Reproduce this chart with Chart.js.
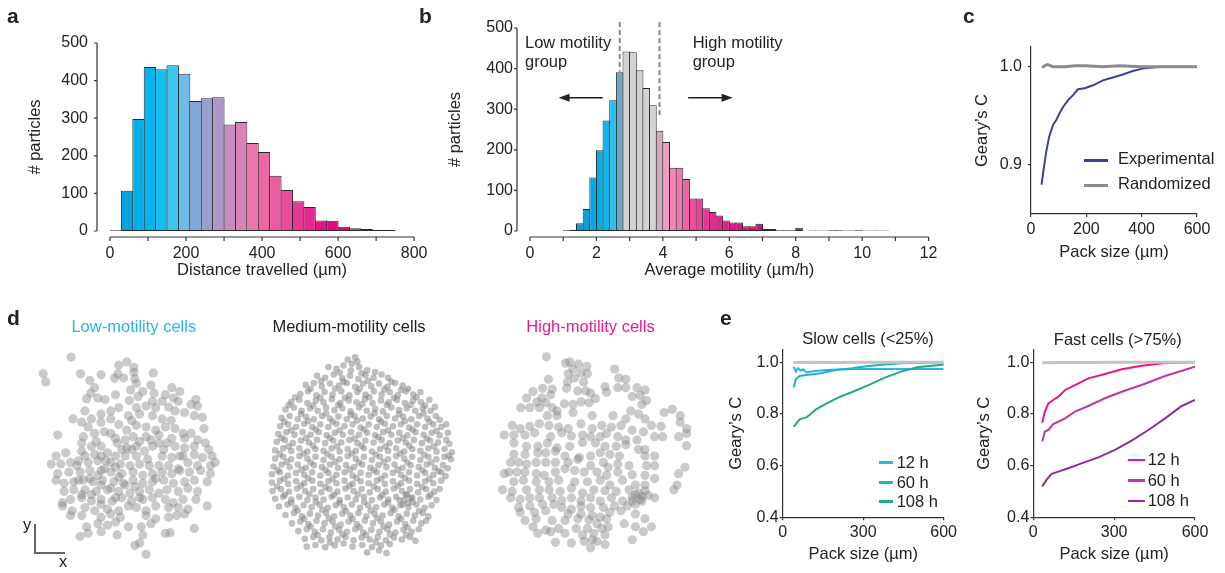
<!DOCTYPE html>
<html>
<head>
<meta charset="utf-8">
<script src="https://cdn.jsdelivr.net/npm/chart.js@4.4.1/dist/chart.umd.min.js"></script>
<style>
  body { margin: 0; width: 1225px; height: 573px; position: relative; overflow: hidden; background: #fff;
         font-family: "Liberation Sans", Arial, sans-serif; color: #222; }
  canvas { position: absolute; }
  .swatch { position: absolute; height: 2.5px; }
  .scalebar { position: absolute; border-left: 2px solid #666; border-bottom: 2px solid #666; }
</style>
</head>
<body>
<canvas id="distChart" width="440" height="280" style="left:0;top:0"></canvas>
<canvas id="motChart" width="530" height="280" style="left:420px;top:0"></canvas>
<canvas id="gearyChart" width="260" height="232" style="left:960px;top:30px"></canvas>
<canvas id="lowCells" width="260" height="273" style="left:0;top:300px"></canvas>
<canvas id="medCells" width="250" height="273" style="left:255px;top:300px"></canvas>
<canvas id="highCells" width="230" height="273" style="left:490px;top:300px"></canvas>
<canvas id="slowChart" width="240" height="234" style="left:720px;top:330px"></canvas>
<canvas id="fastChart" width="255" height="234" style="left:965px;top:330px"></canvas>
<div class="scalebar" style="left:34px;top:524px;width:29px;height:28px"></div>

<script>
// ---- a: distance travelled histogram (30 µm bins) ----
const distBinWidth = 30
const distBinStarts = [0, 30, 60, 90, 120, 150, 180, 210, 240, 270, 300, 330, 360, 390, 420, 450, 480, 510, 540, 570, 600, 630, 660, 690, 720]
const distCounts = [2, 107, 298, 436, 430, 441, 418, 346, 353, 356, 283, 290, 234, 210, 147, 109, 79, 64, 28, 27, 11, 7, 5, 3, 3]
const distColors = ['#0a96d4', '#05a3e0', '#00aeea', '#00b5ee', '#12bdf0', '#3cc5ef', '#6fbde6', '#7da9da', '#999fcf', '#ae97c7',
  '#c58dbf', '#d884b8', '#ee74ab', '#ef67a4', '#ec5a9f', '#eb4b99', '#e93794', '#e8288f', '#e6138a', '#e40787',
  '#dc0a82', '#cf1580', '#c0217c', '#b02a7a', '#a4307a']

// ---- b: average motility histogram (0.2 µm/h bins) ----
const motBinWidth = 0.2
const motBinStarts = [1.0, 1.2, 1.4, 1.6, 1.8, 2.0, 2.2, 2.4, 2.6, 2.8, 3.0, 3.2, 3.4, 3.6, 3.8, 4.0, 4.2, 4.4, 4.6, 4.8,
  5.0, 5.2, 5.4, 5.6, 5.8, 6.0, 6.2, 6.4, 6.6, 6.8, 7.0, 7.2, 7.4, 7.6, 7.8, 8.0,
  8.4, 8.6, 8.8, 9.0, 9.2, 9.4, 9.6, 9.8, 10.0, 10.2, 10.4, 10.6]
const motCounts = [2, 3, 19, 54, 132, 199, 272, 322, 391, 442, 440, 396, 352, 310, 247, 219, 156, 156, 128, 80,
  80, 56, 47, 38, 26, 21, 21, 12, 12, 18, 5, 5, 2, 2, 2, 8,
  1, 1, 1, 2, 2, 1, 1, 2, 1, 1, 1, 1]
const motColors = ['#0a8fca', '#0a94cf', '#0a9ad6', '#0aa0dc', '#06a8e4', '#03aee8', '#0fb6ec', '#1fc2f0', '#6ea6c6', '#d1d3d4',
  '#d1d3d4', '#d1d3d4', '#d1d3d4', '#d1d3d4', '#d3a9bd', '#f19cc2', '#ef86b6', '#ee78ae', '#ec62a4', '#ea4f9c',
  '#e94398', '#e83593', '#e72a8f', '#e6228c', '#e61a89', '#e51487', '#e51086', '#e40c84', '#e40a83', '#e40882',
  '#e20680', '#e1057f', '#df057e', '#dd047e', '#db037d', '#d9037d',
  '#c0217c', '#b52a7b', '#aa307c', '#a0337e', '#a0337e', '#aa307c', '#b02a7a', '#a0337e', '#a4307a', '#b02a7a', '#b52a7b', '#b52a7b']
const lowCut = 2.7, highCut = 3.9

// ---- c: Geary's C vs pack size ----
const packExp = [38, 47, 56, 66, 80, 92, 104, 116, 134, 152, 170, 194, 224, 260, 296, 332, 368, 404, 464, 600]
const gearyExp = [0.880, 0.898, 0.915, 0.929, 0.941, 0.946, 0.953, 0.959, 0.966, 0.971, 0.977, 0.978, 0.981, 0.986, 0.989, 0.992, 0.9955, 0.998, 1.0, 1.0]
const packRand = [40, 50, 60, 80, 120, 160, 200, 260, 320, 400, 480, 560, 600]
const gearyRand = [0.999, 1.001, 1.002, 1.0, 1.0, 1.001, 1.001, 1.0, 1.001, 1.0, 1.0, 1.0, 1.0]

// ---- e: slow / fast cells at three time points ----
const slowRandX = [40, 100, 200, 300, 400, 500, 600]
const slowRandY = [0.999, 1.0, 0.999, 1.0, 1.0, 1.0, 1.0]
const slow12X = [41, 49, 57, 66, 76, 88, 112, 161, 259, 380, 600]
const slow12Y = [0.983, 0.964, 0.977, 0.968, 0.973, 0.961, 0.965, 0.970, 0.974, 0.974, 0.974]
const slow60X = [41, 49, 63, 88, 137, 198, 259, 320, 380, 441, 600]
const slow60Y = [0.903, 0.934, 0.947, 0.951, 0.957, 0.970, 0.977, 0.986, 0.992, 0.996, 0.999]
const slow108X = [41, 51, 63, 88, 100, 124, 161, 210, 259, 320, 380, 441, 502, 602]
const slow108Y = [0.751, 0.764, 0.779, 0.787, 0.796, 0.818, 0.839, 0.865, 0.885, 0.912, 0.941, 0.964, 0.981, 0.992]

const fastRandX = [33, 100, 200, 300, 400, 500, 600]
const fastRandY = [0.998, 0.999, 0.999, 1.0, 1.0, 1.0, 1.0]
const fast12X = [33, 43, 56, 74, 93, 118, 155, 204, 266, 328, 402, 489, 600]
const fast12Y = [0.766, 0.809, 0.841, 0.854, 0.867, 0.893, 0.912, 0.938, 0.955, 0.973, 0.987, 0.997, 1.0]
const fast60X = [33, 43, 56, 74, 93, 118, 155, 204, 266, 328, 402, 489, 600]
const fast60Y = [0.693, 0.732, 0.738, 0.761, 0.770, 0.783, 0.809, 0.831, 0.861, 0.886, 0.912, 0.947, 0.983]
const fast108X = [33, 49, 68, 93, 130, 179, 241, 303, 365, 427, 489, 551, 600]
const fast108Y = [0.519, 0.545, 0.568, 0.577, 0.590, 0.609, 0.632, 0.661, 0.697, 0.738, 0.783, 0.831, 0.854]

// ---- d: cell positions (µm, y measured downward) ----
const lowCellsXY = [
  [207,163],[120,215],[128,240],[236,215],[300,218],[355,188],[380,178],[402,195],[352,215],[342,228],[370,228],[402,210],[405,230],[462,212],[265,235],
  [410,245],[455,250],[520,258],[545,270],[280,258],[268,275],[255,292],[290,290],[345,280],[392,265],[388,298],[430,270],[465,275],[500,280],[525,290],[540,300],[312,295],[460,300],[415,285],[490,300],[595,295],
  [355,320],[410,320],[440,315],[470,320],[510,318],[530,330],[580,310],[600,315],[250,330],[300,340],[330,355],[385,345],[420,340],[460,345],[490,355],[518,360],[560,335],[590,345],[615,350],[213,355],[240,365],[270,355],[300,365],[355,372],
  [380,390],[410,375],[440,380],[470,390],[500,380],[530,385],[555,400],[580,400],[620,385],[165,405],[245,410],[280,400],[310,395],[345,415],[375,420],[400,410],[440,410],[480,405],[520,415],[560,415],[600,420],[625,430],
  [240,430],[270,440],[300,440],[320,460],[350,430],[380,445],[410,440],[435,455],[460,440],[495,450],[530,440],[560,445],[590,440],[635,450],[645,470],[190,460],[160,470],[240,455],[280,465],[345,470],[375,470],[410,470],[445,480],[490,470],[520,475],[555,470],[590,465],[615,475],
  [145,495],[175,495],[205,490],[230,485],[260,490],[290,485],[330,490],[360,495],[390,500],[420,495],[450,500],[480,500],[510,500],[540,510],[570,490],[600,500],[640,500],[655,490],[165,525],[200,520],[235,520],[265,515],[300,515],[330,520],[365,525],[400,520],[430,530],[460,525],[490,520],[520,525],[545,515],[575,520],[610,515],[640,525],
  [160,545],[185,555],[215,550],[245,545],[275,550],[305,545],[340,550],[370,555],[400,545],[430,555],[460,550],[495,545],[525,555],[560,550],[590,545],[630,550],[185,580],[215,575],[250,575],[285,580],[320,575],[355,580],[390,585],[420,580],[450,575],[480,585],[505,575],[540,580],[570,570],[600,580],
  [180,615],[205,605],[240,600],[270,610],[300,605],[335,610],[365,600],[395,610],[430,605],[460,600],[500,605],[525,615],[555,605],[595,605],[630,625],[180,625],[210,640],[250,630],[280,640],[320,635],[355,640],[385,625],[410,630],[440,640],[470,625],[510,630],[540,630],[570,635],[240,655],[205,655],[300,660],[330,650],[360,660],[440,655],[470,665],[510,660],[535,655],[560,650],
  [255,690],[290,680],[320,685],[345,675],[385,690],[425,690],[455,680],[590,695],[235,720],[260,710],[300,705],[350,715],[430,715],[500,710],[515,708],[405,748],[420,740],[440,775],
  [330,330],[395,360],[260,380],[330,400],[420,425],[225,500],[310,510],[355,535],[270,590],[345,600],[300,620],[420,600],[250,470],[480,430],[545,470],[300,560],
  [285,425],[315,485],[345,505],[265,540],[290,530],[375,560],[330,570],[240,590],[395,450],[455,420],[505,430],[365,450],[300,470],[230,545],[405,565],[470,540]
]
const medCellsXY = [
  [275,172],[298,165],[305,178],
  [215,195],[240,200],[262,190],[285,205],[310,195],[335,205],[360,210],
  [180,222],[205,228],[232,218],[258,230],[282,222],[308,232],[330,220],[355,228],[380,218],[400,228],
  [145,250],[170,244],[195,255],[220,246],[248,252],[272,244],[298,256],[322,246],[348,254],[372,246],[398,256],[422,244],[445,252],[462,262],
  [128,278],[152,270],[178,282],[203,272],[228,280],[255,270],[280,282],[305,272],[330,280],[356,270],[380,280],[405,272],[430,282],[455,270],[478,280],[500,272],
  [100,302],[125,296],[150,306],[176,298],[200,304],[226,294],[252,306],[278,298],[302,304],[328,294],[352,306],[378,298],[402,304],[428,296],[452,306],[478,298],[502,304],[528,296],
  [82,326],[108,320],[132,330],[158,322],[182,330],[208,320],[234,328],[258,322],[284,332],[310,320],[334,330],[360,324],[384,332],[410,320],[434,328],[458,322],[484,330],[508,322],[532,330],[545,318],
  [70,352],[95,346],[120,356],[146,348],[170,356],[196,346],[220,354],[246,348],[272,356],[296,346],[322,354],[346,348],[372,356],[396,346],[422,354],[446,348],[472,356],[496,346],[522,354],[548,346],[560,358],
  [66,378],[90,372],[115,380],[140,370],[165,380],[190,372],[215,380],[240,370],[265,378],[290,372],[315,382],[340,372],[365,380],[390,370],[415,378],[440,372],[465,382],[490,372],[515,380],[540,372],[565,380],[580,372],
  [60,402],[85,396],[110,404],[135,396],[160,404],[185,396],[210,406],[235,398],[260,404],[285,396],[310,404],[335,398],[360,406],[385,396],[410,404],[435,398],[460,406],[485,396],[510,404],[535,398],[560,406],[585,398],
  [55,426],[80,420],[105,430],[130,422],[155,428],[180,420],[205,430],[230,422],[255,428],[280,420],[305,430],[330,422],[355,428],[380,420],[405,430],[430,422],[455,428],[480,420],[505,430],[530,422],[555,428],[580,420],[590,432],
  [50,452],[75,446],[100,454],[125,446],[150,456],[175,448],[200,454],[225,446],[250,456],[275,448],[300,454],[325,446],[350,456],[375,448],[400,454],[425,446],[450,456],[475,448],[500,454],[525,446],[550,456],[575,448],[598,458],
  [50,478],[75,472],[100,480],[125,470],[150,478],[175,472],[200,482],[225,472],[250,480],[275,470],[300,478],[325,472],[350,482],[375,472],[400,480],[425,470],[450,478],[475,472],[500,482],[525,472],[550,480],[575,472],[595,480],
  [45,502],[70,496],[95,504],[120,496],[145,506],[170,498],[195,504],[220,496],[245,506],[270,498],[295,504],[320,496],[345,506],[370,498],[395,504],[420,496],[445,506],[470,498],[495,504],[520,496],[545,506],[570,498],[585,508],
  [40,526],[65,520],[90,530],[115,522],[140,528],[165,520],[190,530],[215,522],[240,528],[265,520],[290,530],[315,522],[340,528],[365,520],[390,530],[415,522],[440,528],[465,520],[490,530],[515,522],[540,528],[565,520],[578,532],
  [40,552],[65,546],[90,556],[115,548],[140,554],[165,546],[190,556],[215,548],[240,554],[265,546],[290,556],[315,548],[340,554],[365,546],[390,556],[415,548],[440,554],[465,546],[490,556],[515,548],[540,554],[565,546],
  [42,578],[68,572],[93,580],[118,570],[143,578],[168,572],[193,582],[218,572],[243,580],[268,570],[293,578],[318,572],[343,582],[368,572],[393,580],[418,570],[443,578],[468,572],[493,582],[518,572],[543,580],[560,572],
  [50,602],[75,596],[100,604],[125,596],[150,606],[175,598],[200,604],[225,596],[250,606],[275,598],[300,604],[325,596],[350,606],[375,598],[400,604],[425,596],[450,606],[475,598],[500,604],[525,596],[550,606],
  [62,626],[88,620],[113,630],[138,622],[163,628],[188,620],[213,630],[238,622],[263,628],[288,620],[313,630],[338,622],[363,628],[388,620],[413,630],[438,622],[463,628],[488,620],[513,630],[535,622],
  [82,652],[108,646],[133,656],[158,648],[183,654],[208,646],[233,656],[258,648],[283,654],[308,646],[333,656],[358,648],[383,654],[408,646],[433,656],[458,648],[483,654],[508,646],[525,656],
  [102,678],[128,672],[153,680],[178,670],[203,678],[228,672],[253,682],[278,672],[303,680],[328,670],[353,678],[378,672],[403,682],[428,672],[453,680],[478,670],[503,678],[518,670],
  [122,702],[148,696],[173,704],[198,696],[223,706],[248,698],[273,704],[298,696],[323,706],[348,698],[373,704],[398,696],[423,706],[448,698],[473,704],[495,696],
  [142,726],[168,720],[193,730],[218,722],[243,728],[268,720],[293,730],[318,722],[343,728],[368,720],[393,730],[418,722],[443,728],[468,720],[485,732],
  [148,750],[175,745],[205,752],[235,746],[290,750],[320,745],[350,752],[378,746],[405,742],
  [335,768],[372,762],[395,770],
  [288,185],[250,212],[318,214],[192,238],[262,240],[338,238],[410,240],[160,262],[236,262],[312,262],[388,264],[440,266],[488,288],[112,288],[190,290],[266,290],[342,288],[418,290],
  [515,314],[92,312],[168,314],[246,312],[320,310],[396,312],[470,312],[130,340],[208,338],[284,342],[358,338],[434,340],[510,338],[78,364],[152,362],[228,364],[304,360],[378,364],
  [452,362],[528,364],[100,390],[176,388],[250,390],[326,388],[400,390],[476,388],[550,392],[70,414],[146,414],[220,414],[296,416],[370,412],[446,414],[520,416],[92,440],[168,438],
  [242,440],[318,438],[392,440],[466,438],[542,440],[64,464],[138,462],[212,464],[288,462],[362,466],[438,462],[512,466],[588,468],[86,488],[160,490],[236,488],[310,490],[386,488],
  [460,490],[534,490],[58,514],[132,512],[206,514],[282,512],[356,514],[430,512],[506,514],[556,516],[78,540],[152,538],[228,540],[302,538],[378,540],[452,538],[528,540],[56,564],
  [130,562],[206,566],[280,562],[356,564],[430,562],[506,566],[80,590],[156,588],[232,590],[306,588],[382,590],[458,588],[532,590],[100,614],[176,612],[250,614],[326,612],[400,614],
  [476,612],[120,638],[196,636],[270,640],[346,638],[420,636],[496,640],[140,664],[216,662],[290,664],[366,662],[440,664],[160,688],[236,688],[312,690],[386,688],[460,690],[182,714],
  [258,712],[332,714],[406,712],[456,714],[220,738],[262,740],[362,736],
  [455,590],[470,600],[462,615],[445,620],[435,606]
]
const highCellsXY = [
  [162,162],[222,182],[235,178],[262,185],[288,192],[245,200],[270,212],[230,215],[250,228],[290,215],[278,240],[375,200],[388,228],[410,232],[168,232],[228,240],
  [345,255],[385,258],[410,258],[445,258],[470,265],[150,260],[180,262],[120,270],[175,280],[148,290],[100,290],[132,302],[160,305],[225,260],[260,268],[285,268],[300,275],[350,272],[455,282],[475,298],[430,285],
  [82,320],[110,320],[140,320],[180,320],[195,330],[218,308],[245,310],[270,302],[295,305],[315,292],[425,330],[460,310],[450,340],[530,335],[555,325],[580,345],[165,345],[195,345],[245,335],[305,345],[370,345],[410,355],[470,355],[490,375],[520,378],[580,365],[600,385],
  [55,375],[80,385],[110,378],[140,370],[170,375],[200,380],[230,385],[270,370],[305,385],[335,375],[365,380],[395,375],[430,390],[465,395],
  [30,405],[60,405],[95,405],[125,398],[175,410],[210,398],[240,408],[275,405],[300,410],[330,410],[350,400],[385,410],[410,420],[445,420],[500,410],[525,410],[575,410],[600,400],
  [60,430],[100,440],[135,440],[165,430],[195,445],[235,440],[275,428],[315,430],[345,440],[380,440],[410,435],[450,450],[470,450],[600,438],
  [60,465],[95,465],[135,460],[160,460],[190,455],[220,470],[265,475],[300,470],[330,460],[360,465],[390,470],[470,470],[500,470],
  [50,490],[75,490],[100,495],[130,490],[160,490],[190,490],[230,490],[260,480],[300,500],[340,490],[355,505],[385,495],[420,500],[475,500],[500,500],[595,505],
  [30,525],[45,520],[70,520],[95,520],[130,525],[155,530],[190,520],[220,510],[250,515],[280,520],[320,520],[350,530],[385,520],[430,528],[470,530],[500,540],[575,525],
  [60,550],[90,545],[130,550],[170,550],[200,545],[250,550],[290,550],[330,545],[360,560],[400,545],[440,560],[470,560],[570,560],
  [25,575],[55,580],[100,575],[140,575],[170,575],[205,580],[240,570],[275,585],[310,575],[345,578],[380,580],[420,575],[440,590],[460,595],[480,592],[500,600],[560,575],
  [50,600],[80,605],[110,600],[140,600],[180,600],[210,608],[240,600],[270,610],[300,600],[330,610],[365,600],[400,610],[430,610],[460,610],
  [75,630],[110,625],[150,620],[185,620],[210,630],[240,635],[270,625],[300,630],[340,630],[375,625],[415,625],[440,620],
  [80,645],[125,645],[160,640],[230,650],[270,650],[305,655],[330,660],[360,645],[395,640],[440,650],
  [95,670],[130,665],[180,670],[220,670],[260,665],[295,668],[320,680],[350,665],[405,680],[470,665],
  [120,690],[160,700],[200,695],[255,695],[290,695],[335,695],[355,690],[440,690],[490,690],
  [135,710],[175,705],[220,710],[275,715],[310,710],[345,715],[465,705],
  [190,738],[240,740],[280,735],[305,730],[320,735],[345,745],[430,730],[300,755],
  [450,585],[470,578],[455,605],[430,598]
]

Chart.defaults.font.family = '"Liberation Sans", Arial, sans-serif'
Chart.defaults.color = '#222'
Chart.defaults.animation = false
Chart.defaults.responsive = false
Chart.defaults.devicePixelRatio = 1
Chart.defaults.plugins.legend.display = false
Chart.defaults.plugins.tooltip.enabled = false

const tickFont = { size: 16 }
const titleFont = { size: 16.5 }
const axisColor = '#333'

// R-style axes: lines detached from the plot, spanning first to last tick
const detachedAxes = {
  id: 'detachedAxes',
  afterDraw (chart, args, o) {
    const { ctx, chartArea, scales: { x, y } } = chart
    ctx.save()
    ctx.strokeStyle = axisColor
    ctx.lineWidth = 1.2
    ctx.beginPath()
    const ax = chartArea.bottom + o.xGap
    ctx.moveTo(x.getPixelForValue(o.xFrom), ax)
    ctx.lineTo(x.getPixelForValue(o.xTo), ax)
    for (let v = o.xFrom; v <= o.xTo + 1e-9; v += o.xStep) {
      const px = x.getPixelForValue(v)
      ctx.moveTo(px, ax)
      ctx.lineTo(px, ax + 4)
    }
    const ay = chartArea.left - o.yGap
    ctx.moveTo(ay, y.getPixelForValue(o.yFrom))
    ctx.lineTo(ay, y.getPixelForValue(o.yTo))
    for (let v = o.yFrom; v <= o.yTo + 1e-9; v += o.yStep) {
      const py = y.getPixelForValue(v)
      ctx.moveTo(ay, py)
      ctx.lineTo(ay - 3, py)
    }
    ctx.stroke()
    ctx.restore()
  }
}

// dashed cut-offs and arrows on the motility histogram
const motilityMarks = {
  id: 'motilityMarks',
  afterDatasetsDraw (chart) {
    const { ctx, scales: { x, y } } = chart
    ctx.save()
    ctx.strokeStyle = '#888'
    ctx.lineWidth = 2
    ctx.setLineDash([5, 3])
    ctx.beginPath()
    ctx.moveTo(x.getPixelForValue(lowCut), y.getPixelForValue(515))
    ctx.lineTo(x.getPixelForValue(lowCut), y.getPixelForValue(392))
    ctx.moveTo(x.getPixelForValue(highCut), y.getPixelForValue(515))
    ctx.lineTo(x.getPixelForValue(highCut), y.getPixelForValue(281))
    ctx.stroke()
    ctx.setLineDash([])
    const arrow = (from, to, at) => {
      const x0 = x.getPixelForValue(from)
      const x1 = x.getPixelForValue(to)
      const py = y.getPixelForValue(at)
      const dir = Math.sign(x1 - x0)
      ctx.strokeStyle = '#222'
      ctx.fillStyle = '#222'
      ctx.lineWidth = 1.5
      ctx.beginPath()
      ctx.moveTo(x0, py)
      ctx.lineTo(x1 - dir * 8, py)
      ctx.stroke()
      ctx.beginPath()
      ctx.moveTo(x1, py)
      ctx.lineTo(x1 - dir * 11, py - 4)
      ctx.lineTo(x1 - dir * 11, py + 4)
      ctx.closePath()
      ctx.fill()
    }
    arrow(2.19, 0.86, 328)
    arrow(4.76, 6.1, 328)
    ctx.restore()
  }
}

function fixSize (prop, px) {
  return scale => { scale[prop] = px }
}

function histogram (id, starts, width, counts, colors, opt) {
  return new Chart(document.getElementById(id), {
    type: 'bar',
    data: {
      datasets: [{
        data: starts.map((s, i) => ({ x: s + width / 2, y: counts[i] })),
        backgroundColor: colors,
        borderColor: '#2b2b2b',
        borderWidth: 1,
        borderSkipped: false,
        barPercentage: opt.barPct,
        categoryPercentage: 1
      }]
    },
    options: {
      layout: { padding: opt.padding },
      scales: {
        x: {
          type: 'linear', offset: false, min: opt.xMin, max: opt.xMax,
          afterFit: fixSize('height', opt.xHeight),
          grid: { display: false, drawTicks: false, offset: false }, border: { display: false },
          ticks: { stepSize: opt.xLabelStep, padding: opt.xPad, font: tickFont, maxRotation: 0 },
          title: { display: true, text: opt.xTitle, font: titleFont, padding: 0 }
        },
        y: {
          min: 0, max: 500,
          afterFit: fixSize('width', opt.yWidth),
          grid: { display: false, drawTicks: false }, border: { display: false },
          ticks: { stepSize: 100, padding: opt.yPad, font: tickFont },
          title: { display: true, text: '# particles', font: titleFont, padding: 0 }
        }
      },
      plugins: { detachedAxes: opt.axes }
    },
    plugins: [detachedAxes].concat(opt.extra || [])
  })
}

histogram('distChart', distBinStarts, distBinWidth, distCounts, distColors, {
  padding: { left: 26, top: 43, right: 20, bottom: 0 },
  xMin: 0, xMax: 800, xLabelStep: 200, xHeight: 49, yWidth: 84, xPad: 12.5, yPad: 22, barPct: 1.086,
  xTitle: 'Distance travelled (µm)',
  axes: { xGap: 6, xFrom: 0, xTo: 800, xStep: 100, yGap: 13, yFrom: 0, yTo: 500, yStep: 100 }
})

histogram('motChart', motBinStarts, motBinWidth, motCounts, motColors, {
  padding: { left: 26, top: 28, right: 15, bottom: 0 },
  xMin: 0, xMax: 12, xLabelStep: 2, xHeight: 49, yWidth: 84, xPad: 12.5, yPad: 17, barPct: 1.148,
  xTitle: 'Average motility (µm/h)',
  axes: { xGap: 6, xFrom: 0, xTo: 12, xStep: 1, yGap: 13, yFrom: 0, yTo: 500, yStep: 100 },
  extra: [motilityMarks]
})

function series (xs, ys, color, width) {
  return {
    data: xs.map((x, i) => ({ x, y: ys[i] })),
    borderColor: color,
    borderWidth: width,
    pointRadius: 0,
    tension: 0,
    fill: false
  }
}

function lineChart (id, datasets, opt) {
  return new Chart(document.getElementById(id), {
    type: 'line',
    data: { datasets },
    options: {
      layout: { padding: opt.padding },
      scales: {
        x: {
          type: 'linear', min: 0, max: 600,
          afterFit: fixSize('height', opt.xHeight),
          afterBuildTicks: s => { s.ticks = opt.xTicks.map(value => ({ value })) },
          grid: { display: true, drawOnChartArea: false, drawTicks: true, tickLength: 3, color: axisColor, lineWidth: 1.2 },
          border: { display: true, color: axisColor, width: 1.2 },
          ticks: { padding: opt.xPad, font: tickFont, maxRotation: 0 },
          title: { display: true, text: 'Pack size (µm)', font: titleFont, padding: 0 }
        },
        y: {
          min: opt.yMin, max: opt.yMax,
          afterFit: fixSize('width', opt.yWidth),
          afterBuildTicks: s => { s.ticks = opt.yTicks.map(value => ({ value })) },
          grid: { display: true, drawOnChartArea: false, drawTicks: true, tickLength: 3, color: axisColor, lineWidth: 1.2 },
          border: { display: true, color: axisColor, width: 1.2 },
          ticks: { padding: opt.yPad, font: tickFont, callback: v => v.toFixed(1) },
          title: { display: true, text: 'Geary\u2019s C', font: titleFont, padding: 0 }
        }
      }
    }
  })
}

lineChart('gearyChart', [
  series(packRand, gearyRand, '#8c8c8c', 3),
  series(packExp, gearyExp, '#3d3fa6', 2)
], {
  padding: { left: 13, top: 17, right: 23, bottom: 0 },
  xHeight: 48, yWidth: 58, xPad: 3, yPad: 6,
  yMin: 0.85, yMax: 1.02, xTicks: [0, 200, 400, 600], yTicks: [0.9, 1.0]
})

lineChart('slowChart', [
  series(slowRandX, slowRandY, '#c4c4c4', 3),
  series(slow108X, slow108Y, '#1ea98b', 2),
  series(slow60X, slow60Y, '#1cb2cf', 2),
  series(slow12X, slow12Y, '#29b4ea', 2)
], {
  padding: { left: 7, top: 19.4, right: 13.3, bottom: 0 },
  xHeight: 46.7, yWidth: 55.7, xPad: 3, yPad: 1,
  yMin: 0.4, yMax: 1.05, xTicks: [0, 300, 600], yTicks: [0.4, 0.6, 0.8, 1.0]
})

lineChart('fastChart', [
  series(fastRandX, fastRandY, '#c4c4c4', 3),
  series(fast108X, fast108Y, '#8e2f98', 2),
  series(fast60X, fast60Y, '#c4389d', 2),
  series(fast12X, fast12Y, '#ec148c', 2)
], {
  padding: { left: 10, top: 19.4, right: 25, bottom: 0 },
  xHeight: 46.7, yWidth: 58.3, xPad: 3, yPad: 1,
  yMin: 0.4, yMax: 1.05, xTicks: [0, 300, 600], yTicks: [0.4, 0.6, 0.8, 1.0]
})

function cellMap (id, points, xMax, radius, color) {
  return new Chart(document.getElementById(id), {
    type: 'scatter',
    data: {
      datasets: [{
        data: points.map(p => ({ x: p[0], y: p[1] })),
        backgroundColor: color,
        borderWidth: 0,
        pointRadius: radius
      }]
    },
    options: {
      layout: { padding: 0 },
      scales: {
        x: { display: false, min: 0, max: xMax },
        y: { display: false, min: 0, max: 819, reverse: true }
      }
    }
  })
}

cellMap('lowCells', lowCellsXY, 780, 4.6, 'rgba(128,128,128,0.42)')
cellMap('medCells', medCellsXY, 750, 3.3, 'rgba(128,128,128,0.5)')
cellMap('highCells', highCellsXY, 690, 4.6, 'rgba(128,128,128,0.42)')

// text placed by its baseline
function putText (txt, x, baseline, opt = {}) {
  const el = document.createElement('div')
  const fs = opt.size || 16.5
  el.textContent = txt
  el.style.cssText = 'position:absolute;white-space:nowrap;' +
    `font-size:${fs}px;line-height:${fs}px;left:${x}px;top:${baseline - 0.8465 * fs}px;` +
    `color:${opt.color || '#222'};font-weight:${opt.bold ? 'bold' : 'normal'};` +
    (opt.center ? 'transform:translateX(-50%);' : '')
  document.body.appendChild(el)
}

function swatch (x0, x1, y, color) {
  const el = document.createElement('div')
  el.className = 'swatch'
  el.style.cssText = `left:${x0}px;width:${x1 - x0}px;top:${y - 1.25}px;background:${color}`
  document.body.appendChild(el)
}

const letter = { size: 21, bold: true }
putText('a', 7, 23, letter)
putText('b', 419, 23, letter)
putText('c', 963, 23, letter)
putText('d', 7, 325, letter)
putText('e', 720, 325, letter)

putText('Low motility', 525, 48.3)
putText('group', 525, 66.7)
putText('High motility', 692.7, 48.3)
putText('group', 692.7, 66.7)

swatch(1084, 1108, 160.3, '#3d3fa6')
putText('Experimental', 1118, 163.5)
swatch(1084, 1108, 185.7, '#8c8c8c')
putText('Randomized', 1118, 189.3)

putText('Low-motility cells', 133.8, 332.3, { center: true, color: '#29b5ec' })
putText('Medium-motility cells', 349, 332.3, { center: true })
putText('High-motility cells', 590.5, 332.3, { center: true, color: '#ec1c8c' })
putText('y', 23, 530)
putText('x', 59, 567)

putText('Slow cells (<25%)', 868, 344.3, { center: true })
putText('Fast cells (>75%)', 1117.8, 345, { center: true })

swatch(879, 893, 462.3, '#29b4ea')
putText('12 h', 896.7, 467.7)
swatch(879, 893, 482.7, '#1cb2cf')
putText('60 h', 896.7, 488.1)
swatch(879, 893, 501.7, '#1ea98b')
putText('108 h', 896.7, 507.1)

swatch(1127.7, 1145, 460, '#ec148c')
putText('12 h', 1147.7, 465.4)
swatch(1127.7, 1145, 480.7, '#c4389d')
putText('60 h', 1147.7, 486.1)
swatch(1127.7, 1145, 501, '#8e2f98')
putText('108 h', 1147.7, 506.4)
</script>
</body>
</html>
